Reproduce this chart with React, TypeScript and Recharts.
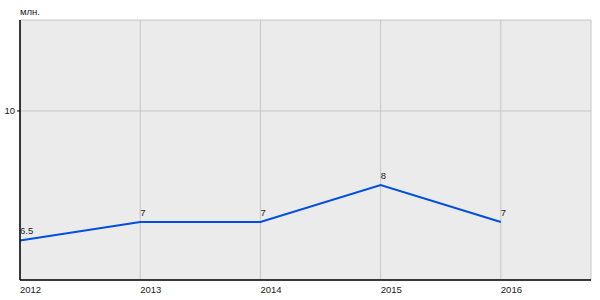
import {
  CartesianGrid,
  Line,
  LineChart,
  XAxis,
  YAxis,
} from "recharts";

const years = [2012, 2013, 2014, 2015, 2016];
const values = [6.5, 7, 7, 8, 7];
const yTicks = [10];
const unit = "млн.";

const data = years.map((year, i) => ({ year, value: values[i] }));

const font = "'Liberation Sans', Arial, sans-serif";

const PointLabel = (props: any) => {
  const { x, y, value } = props;
  return (
    <text x={x} y={y - 6} fontSize={9.5} fontFamily={font} fill="#222" textAnchor="start">
      {value}
    </text>
  );
};

export default function App() {
  return (
    <div style={{ position: "absolute", left: 0, top: 0, width: 600, height: 300, background: "#fff" }}>
      <LineChart
        width={600}
        height={300}
        data={data}
        margin={{ top: 20, right: 9, bottom: 0, left: 0 }}
      >
        <CartesianGrid stroke="#c6c6c6" strokeWidth={1} fill="#ebebeb" fillOpacity={1} />
        <XAxis
          dataKey="year"
          type="number"
          domain={[2012, 2016.75]}
          ticks={years}
          height={20}
          stroke="#000"
          tickLine={false}
          axisLine={{ stroke: "#000", strokeWidth: 1.5 }}
          tick={{ fontSize: 9.5, fontFamily: font, fill: "#222", stroke: "none", textAnchor: "start", dy: -2 }}
        />
        <YAxis
          type="number"
          domain={[5.432, 12.459]}
          ticks={yTicks}
          width={20}
          stroke="#000"
          allowDataOverflow
          axisLine={{ stroke: "#000", strokeWidth: 1.5 }}
          tickLine={{ stroke: "#000" }}
          tickSize={3}
          tick={{ fontSize: 9.5, fontFamily: font, fill: "#222", stroke: "none" }}
          label={{
            value: unit,
            position: "insideTopLeft",
            content: () => (
              <text x={20} y={15} fontSize={9.5} fontFamily={font} fill="#222">
                {unit}
              </text>
            ),
          }}
        />
        <Line
          type="linear"
          dataKey="value"
          stroke="#0050e0"
          strokeWidth={2}
          dot={false}
          activeDot={false}
          isAnimationActive={false}
          label={<PointLabel />}
        />
      </LineChart>
    </div>
  );
}
